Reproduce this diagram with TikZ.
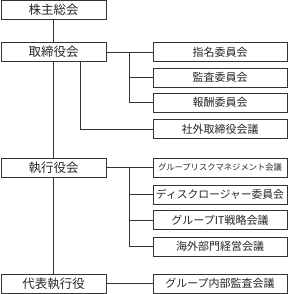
\documentclass[tikz,border=0pt]{standalone}
\usepackage{fontspec}
\newfontfamily\jp{Noto Sans CJK JP}
\begin{document}
\begin{tikzpicture}[x=1pt,y=-1pt,line width=0.7pt,draw=black!80,
  box/.style={draw,rectangle,minimum height=19pt,inner sep=0pt,text=black!85},
  lbox/.style={box,minimum width=105pt,font=\jp\fontsize{12.5}{12.5}\selectfont},
  rbox/.style={box,minimum width=134pt,font=\jp\fontsize{11}{11}\selectfont}]
\useasboundingbox (0,0) rectangle (288,294);
% left column
\node[lbox] (kabunushi) at (53.5,9.5) {株主総会};
\node[lbox] (torishimari) at (53.5,52) {取締役会};
\node[lbox] (shikko) at (53.5,167.5) {執行役会};
\node[lbox] (daihyo) at (53.5,283.5) {代表執行役};
% committees
\node[rbox] (shimei) at (220,52) {指名委員会};
\node[rbox] (kansa) at (220,77.5) {監査委員会};
\node[rbox] (hoshu) at (220,102.5) {報酬委員会};
\node[rbox] (shagai) at (220,129) {社外取締役会議};
% meetings
\node[rbox,font=\jp\fontsize{8.3}{8.3}\selectfont] (risk) at (220,167.5) {グループリスクマネジメント会議};
\node[rbox,font=\jp\fontsize{10.8}{10.8}\selectfont] (disclosure) at (220,194.5) {ディスクロージャー委員会};
\node[rbox] (it) at (220,220) {グループIT戦略会議};
\node[rbox] (kaigai) at (220,246.5) {海外部門経営会議};
\node[rbox] (naibu) at (220,283.5) {グループ内部監査会議};
\coordinate (b1) at (129,0);
\coordinate (b2) at (80,0);
\draw (kabunushi) -- (torishimari);
\draw (torishimari) -- (shikko);
\draw (shikko) -- (daihyo);
\draw (torishimari.east) -- (shimei.west);
\draw (torishimari.east -| b1) |- (kansa.west);
\draw (torishimari.east -| b1) |- (hoshu.west);
\draw (torishimari.south -| b2) |- (shagai.west);
\draw (shikko.east) -- (risk.west);
\draw (shikko.east -| b1) |- (disclosure.west);
\draw (shikko.east -| b1) |- (it.west);
\draw (shikko.east -| b1) |- (kaigai.west);
\draw (daihyo.east) -- (naibu.west);
\end{tikzpicture}
\end{document}
